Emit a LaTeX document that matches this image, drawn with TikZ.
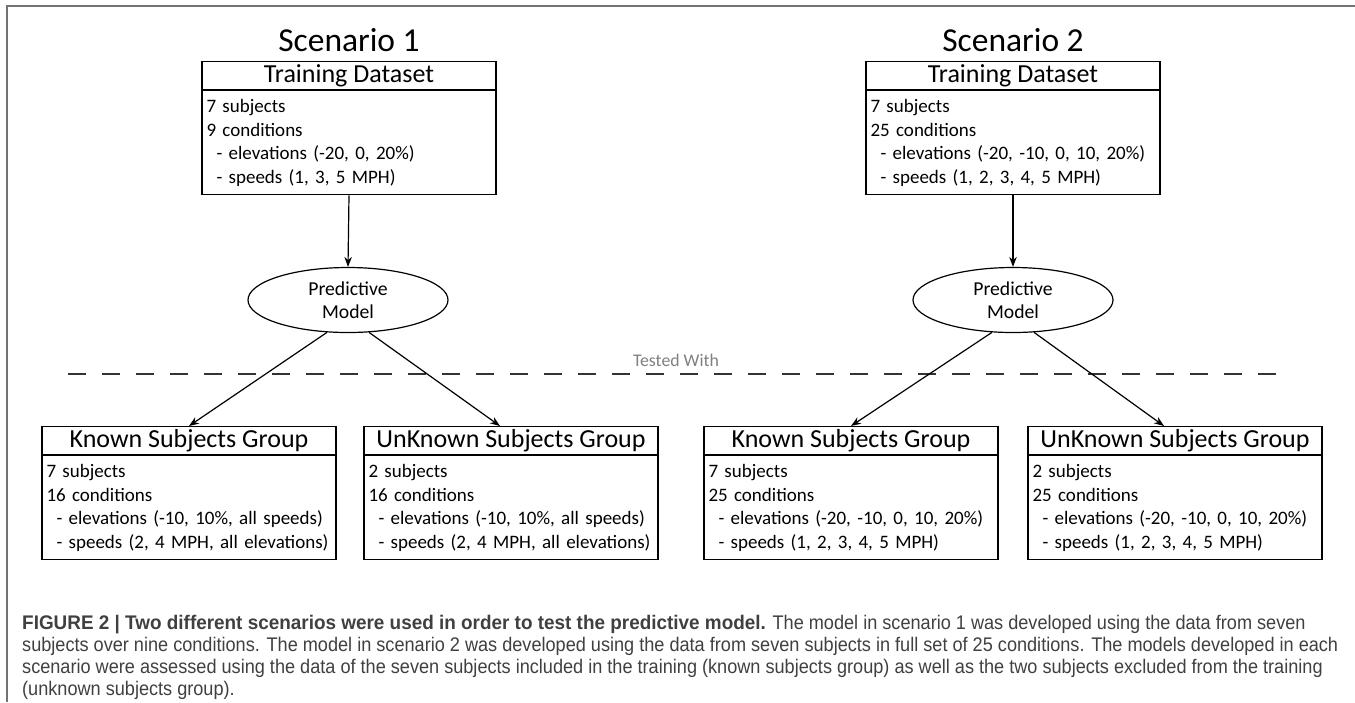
\documentclass[tikz,border=0pt]{standalone}
\usepackage{fontspec}
\setmainfont{Carlito}
\newfontfamily\capfont[FakeStretch=0.92, BoldFeatures={FakeStretch=0.96}]{Liberation Sans}
\usetikzlibrary{arrows.meta,shapes.geometric}

\definecolor{framegray}{gray}{0.45}
\definecolor{capgray}{gray}{0.25}
\definecolor{testgray}{gray}{0.5}

\newcommand{\indline}{\hspace*{10pt}}

\tikzset{
  title/.style={font=\fontsize{33.5}{36}\selectfont},
  head/.style={draw, line width=1.2pt, minimum width=294pt, minimum height=28pt,
    inner sep=0pt, anchor=north, font=\fontsize{26}{28}\selectfont},
  body/.style={draw, line width=1.2pt, text width=285pt, minimum height=104pt,
    inner xsep=4.5pt, inner ysep=0pt, align=left, anchor=north,
    font=\fontsize{19}{23.5}\selectfont},
  model/.style={draw, ellipse, line width=1.2pt, minimum width=200pt, minimum height=65pt,
    inner sep=0pt, align=center, font=\fontsize{19.7}{23}\selectfont},
  arr/.style={-{Stealth[length=10pt,width=7.5pt]}, line width=1.2pt},
}

\begin{document}
\begin{tikzpicture}[x=1pt, y=-1pt]
    \useasboundingbox (0,0) rectangle (1355,702);

    % Frame
    \draw[framegray, line width=1.5pt] (7,702) -- (7,6) -- (1355,6);

    % Scenario 1
    \node[title] (title1) at (349,40) {Scenario 1};
    \node[head] (train1) at (349,61) {Training Dataset};
    \node[body] (train1body) at (train1.south) {7 subjects\\9 conditions\\
      \indline- elevations (-20, 0, 20\%)\\\indline- speeds (1, 3, 5 MPH)};
    \node[model] (model1) at (348,300) {Predictive\\Model};

    % Scenario 2
    \node[title] (title2) at (1013,40) {Scenario 2};
    \node[head] (train2) at (1013,61) {Training Dataset};
    \node[body] (train2body) at (train2.south) {7 subjects\\25 conditions\\
      \indline- elevations (-20, -10, 0, 10, 20\%)\\\indline- speeds (1, 2, 3, 4, 5 MPH)};
    \node[model] (model2) at (1013,300) {Predictive\\Model};

    % Test split
    \coordinate (dashL) at (68,374);
    \coordinate (dashR) at (1290,374);
    \draw[dash pattern=on 18pt off 16pt, line width=1.2pt, black!80] (dashL) -- (dashR);
    \node[text=testgray, font=\fontsize{17.8}{20}\selectfont] (tested) at (676,360) {Tested With};

    % Test groups, scenario 1
    \node[head] (known1) at (189,426) {Known Subjects Group};
    \node[body] (known1body) at (known1.south) {7 subjects\\16 conditions\\
      \indline- elevations (-10, 10\%, all speeds)\\\indline- speeds (2, 4 MPH, all elevations)};
    \node[head] (unknown1) at (511,426) {UnKnown Subjects Group};
    \node[body] (unknown1body) at (unknown1.south) {2 subjects\\16 conditions\\
      \indline- elevations (-10, 10\%, all speeds)\\\indline- speeds (2, 4 MPH, all elevations)};

    % Test groups, scenario 2
    \node[head] (known2) at (851,426) {Known Subjects Group};
    \node[body] (known2body) at (known2.south) {7 subjects\\25 conditions\\
      \indline- elevations (-20, -10, 0, 10, 20\%)\\\indline- speeds (1, 2, 3, 4, 5 MPH)};
    \node[head] (unknown2) at (1175,426) {UnKnown Subjects Group};
    \node[body] (unknown2body) at (unknown2.south) {2 subjects\\25 conditions\\
      \indline- elevations (-20, -10, 0, 10, 20\%)\\\indline- speeds (1, 2, 3, 4, 5 MPH)};

    % Arrows
    \draw[arr] (train1body.south) -- (model1.north);
    \draw[arr] (train2body.south) -- (model2.north);
    \draw[arr] (model1.237) -- (known1.north);
    \draw[arr] (model1.303) -- ([xshift=-11pt]unknown1.north);
    \draw[arr] (model2.237) -- (known2.north);
    \draw[arr] (model2.303) -- ([xshift=-11pt]unknown2.north);

    % Caption
    \node[anchor=north west, align=left, inner sep=0pt, text=capgray,
      font=\capfont\fontsize{19.7}{22}\selectfont] (caption) at (22,615)
      {\textbf{FIGURE 2 | Two different scenarios were used in order to test the predictive model.} The model in scenario 1 was developed using the data from seven\\
      subjects over nine conditions. The model in scenario 2 was developed using the data from seven subjects in full set of 25 conditions. The models developed in each\\
      scenario were assessed using the data of the seven subjects included in the training (known subjects group) as well as the two subjects excluded from the training\\
      (unknown subjects group).};

\end{tikzpicture}
\end{document}
